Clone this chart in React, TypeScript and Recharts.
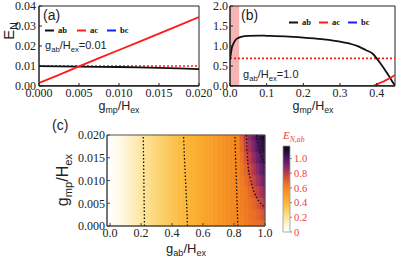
import React from 'react';
import { LineChart, ComposedChart, Line, XAxis, YAxis, ReferenceArea, ReferenceLine } from 'recharts';

// (a) g_ab/H_ex = 0.01
const gmpA = [0, 0.0025, 0.005, 0.0075, 0.01, 0.0125, 0.015, 0.0175, 0.02];
const abA = [0.0099, 0.0098, 0.0097, 0.0096, 0.0095, 0.0093, 0.0091, 0.0088, 0.0084];
const acA = [0.0015, 0.0056, 0.0098, 0.0139, 0.018, 0.0221, 0.0262, 0.0303, 0.0345];
const bcA = [0, 0, 0, 0, 0, 0, 0, 0, 0];
const refA = 0.01;
const xTicksA = [0, 0.005, 0.01, 0.015, 0.02];
const yTicksA = [0, 0.01, 0.02, 0.03, 0.04];

// (b) g_ab/H_ex = 1.0
const gmpB = [0, 0.005, 0.01, 0.015, 0.02, 0.03, 0.05, 0.08, 0.1, 0.15, 0.2, 0.25, 0.3, 0.33, 0.35, 0.37, 0.39, 0.4, 0.41, 0.42, 0.43, 0.44, 0.449];
const abB = [0.66, 0.95, 1.07, 1.15, 1.19, 1.23, 1.255, 1.26, 1.255, 1.24, 1.21, 1.17, 1.11, 1.05, 0.99, 0.9, 0.8, 0.69, 0.57, 0.44, 0.3, 0.15, 0.02];
const acB = [0, 0, 0, 0, 0, 0, 0, 0, 0, 0, 0, 0, 0, 0, 0, 0, 0, 0.04, 0.08, 0.12, 0.17, 0.22, 0.27];
const bcB = gmpB.map(() => 0);
const refB = 0.69;
const bandB = [0, 0.025];
const xTicksB = [0, 0.1, 0.2, 0.3, 0.4];
const yTicksB = [0, 0.5, 1.0, 1.5, 2.0];

// (c) E_N,ab map over g_ab (columns) and g_mp (rows)
const gabCols = [0, 0.025, 0.05, 0.075, 0.1, 0.125, 0.15, 0.175, 0.2, 0.225, 0.25, 0.275, 0.3, 0.325, 0.35, 0.375, 0.4, 0.425, 0.45, 0.475, 0.5, 0.525, 0.55, 0.575, 0.6, 0.625, 0.65, 0.675, 0.7, 0.725, 0.75, 0.775, 0.8, 0.825, 0.85, 0.875, 0.9, 0.925, 0.95, 0.975, 1.0];
const enBase = [0, 0.025, 0.049, 0.072, 0.095, 0.118, 0.14, 0.161, 0.182, 0.203, 0.223, 0.243, 0.262, 0.281, 0.3, 0.318, 0.336, 0.354, 0.372, 0.389, 0.405, 0.422, 0.438, 0.454, 0.47, 0.486, 0.501, 0.516, 0.531, 0.545, 0.56, 0.574, 0.588, 0.602, 0.615, 0.629, 0.642, 0.655, 0.668, 0.68, 0.693];
const gmpRows = [0, 0.0025, 0.005, 0.0075, 0.01, 0.0125, 0.015, 0.0175, 0.02];
const rightCols = [0.85, 0.875, 0.9, 0.925, 0.95, 0.975, 1.0];
const enRight = [
  [0.615, 0.616, 0.618, 0.622, 0.63, 0.64, 0.655, 0.675, 0.7],
  [0.629, 0.63, 0.633, 0.64, 0.66, 0.69, 0.73, 0.77, 0.8],
  [0.642, 0.645, 0.655, 0.675, 0.71, 0.75, 0.79, 0.83, 0.87],
  [0.655, 0.665, 0.685, 0.72, 0.77, 0.81, 0.86, 0.9, 0.94],
  [0.668, 0.685, 0.72, 0.78, 0.83, 0.88, 0.93, 0.98, 1.02],
  [0.68, 0.715, 0.77, 0.83, 0.89, 0.95, 1.0, 1.05, 1.09],
  [0.69, 0.745, 0.82, 0.88, 0.94, 1.0, 1.05, 1.1, 1.14],
];
const contour02 = [{ x: 0.222, y: 0 }, { x: 0.22, y: 0.005 }, { x: 0.218, y: 0.01 }, { x: 0.216, y: 0.015 }, { x: 0.214, y: 0.02 }];
const contour04 = [{ x: 0.5, y: 0 }, { x: 0.494, y: 0.005 }, { x: 0.487, y: 0.01 }, { x: 0.48, y: 0.015 }, { x: 0.474, y: 0.02 }];
const contour06 = [{ x: 0.825, y: 0 }, { x: 0.82, y: 0.005 }, { x: 0.815, y: 0.01 }, { x: 0.81, y: 0.015 }, { x: 0.806, y: 0.02 }];
const contour08 = [{ x: 0.88, y: 0.02 }, { x: 0.883, y: 0.017 }, { x: 0.89, y: 0.0135 }, { x: 0.905, y: 0.0105 }, { x: 0.93, y: 0.0075 }, { x: 0.96, y: 0.0055 }, { x: 1.0, y: 0.0042 }];
const contour10 = [{ x: 0.945, y: 0.02 }, { x: 0.96, y: 0.0175 }, { x: 0.98, y: 0.015 }, { x: 1.0, y: 0.0135 }];
const xTicksC = [0, 0.2, 0.4, 0.6, 0.8, 1.0];
const yTicksC = [0, 0.005, 0.01, 0.015, 0.02];
const cbarTicks = [0, 0.2, 0.4, 0.6, 0.8, 1.0];
const cbarMax = 1.17;

// reversed "sunset" style colour map
const cmapVals = [0, 0.1, 0.2, 0.3, 0.4, 0.5, 0.6, 0.7, 0.8, 0.9, 1.0, 1.17];
const cmapColors = ['#ffffff', '#fff4d4', '#fde39a', '#fccd62', '#fbb63a', '#f9a026', '#f4861e', '#e3602a', '#bc3a4a', '#7e266e', '#4a1762', '#0a0510'];

const hex = (c: string) => [1, 3, 5].map((i) => parseInt(c.slice(i, i + 2), 16));
function colorAt(v: number) {
  const t = Math.max(cmapVals[0], Math.min(cmapVals[cmapVals.length - 1], v));
  let i = 0;
  while (i < cmapVals.length - 2 && t > cmapVals[i + 1]) i++;
  const f = (t - cmapVals[i]) / (cmapVals[i + 1] - cmapVals[i]);
  const a = hex(cmapColors[i]);
  const b = hex(cmapColors[i + 1]);
  const rgb = a.map((x, k) => Math.round(x + (b[k] - x) * f));
  return `rgb(${rgb.join(',')})`;
}

const dataA = gmpA.map((x, i) => ({ x, ab: abA[i], ac: acA[i], bc: bcA[i] }));
const dataB = gmpB.map((x, i) => ({ x, ab: abB[i], ac: acB[i], bc: bcB[i] }));
const cbarData = cbarTicks.map((y) => ({ x: 0.5, y }));

const half = 0.0125;
const halfRow = 0.00125;
const cells: { x1: number; x2: number; y1: number; y2: number; v: number }[] = [];
gabCols.forEach((g, i) => {
  const x1 = i === 0 ? -0.02 : g - half;
  const x2 = Math.min(1.0, g + half);
  const j = rightCols.indexOf(g);
  if (j < 0) {
    cells.push({ x1, x2, y1: 0, y2: 0.02, v: enBase[i] });
  } else {
    gmpRows.forEach((r, k) => {
      cells.push({ x1, x2, y1: Math.max(0, r - halfRow), y2: Math.min(0.02, r + halfRow), v: enRight[j][k] });
    });
  }
});

const tickStyle = { fontFamily: '"Liberation Serif", "Times New Roman", serif', fontSize: 12, fill: '#222' };
const subStyle: React.CSSProperties = { fontSize: '0.7em', position: 'relative', top: '0.35em' };

const GH = ({ a, b }: { a: string; b: string }) => (
  <>g<span style={subStyle}>{a}</span>/H<span style={subStyle}>{b}</span></>
);

const Txt = ({ x, y, children, style }: { x: number; y: number; children: React.ReactNode; style?: React.CSSProperties }) => (
  <div style={{ position: 'absolute', left: x, top: y, whiteSpace: 'nowrap', lineHeight: 1, ...style }}>{children}</div>
);

const LegendItem = ({ x, y, color, label }: { x: number; y: number; color: string; label: string }) => (
  <div style={{ position: 'absolute', left: x, top: y, display: 'flex', alignItems: 'center', gap: 4, lineHeight: 1 }}>
    <svg width={9} height={3}><line x1={0} y1={1.5} x2={9} y2={1.5} stroke={color} strokeWidth={2} /></svg>
    <span style={{ fontFamily: '"Liberation Serif", serif', fontWeight: 700, fontSize: 8.5, color: '#111' }}>{label}</span>
  </div>
);

export default function App() {
  return (
    <div style={{ position: 'absolute', left: 0, top: 0, width: 399, height: 261, background: '#fff', fontFamily: '"Liberation Sans", Arial, sans-serif', color: '#222' }}>
      {/* (a) */}
      <div style={{ position: 'absolute', left: 0, top: 0 }}>
        <LineChart width={212} height={120} data={dataA} margin={{ top: 6, right: 13, bottom: 0, left: 0 }}>
          <XAxis type="number" dataKey="x" domain={[0, 0.02]} ticks={xTicksA} allowDataOverflow height={34}
            tickFormatter={(v: number) => v.toFixed(3)} tick={tickStyle} tickSize={-3} tickMargin={5} stroke="#222" interval={0} />
          <YAxis type="number" domain={[0, 0.04]} ticks={yTicksA} allowDataOverflow width={39}
            tickFormatter={(v: number) => v.toFixed(2)} tick={tickStyle} tickSize={-3} tickMargin={6} stroke="#222" interval={0} />
          <ReferenceArea x1={0} x2={0.02} y1={0} y2={0.04} fill="none" stroke="#222" strokeWidth={1} />
          <ReferenceLine y={refA} stroke="#ff1a1a" strokeWidth={1.6} strokeDasharray="2 2" />
          <Line dataKey="ab" stroke="#111" strokeWidth={1.8} dot={false} isAnimationActive={false} />
          <Line dataKey="ac" stroke="#ff1a1a" strokeWidth={1.8} dot={false} isAnimationActive={false} />
          <Line dataKey="bc" stroke="#1a1aff" strokeWidth={1.8} dot={false} isAnimationActive={false} />
        </LineChart>
      </div>

      {/* (b) */}
      <div style={{ position: 'absolute', left: 195, top: 0 }}>
        <LineChart width={204} height={120} data={dataB} margin={{ top: 6, right: 4, bottom: 0, left: 0 }}>
          <XAxis type="number" dataKey="x" domain={[0, 0.45]} ticks={xTicksB} allowDataOverflow height={34}
            tickFormatter={(v: number) => v.toFixed(1)} tick={tickStyle} tickSize={-3} tickMargin={5} stroke="#222" interval={0} />
          <YAxis type="number" domain={[0, 2]} ticks={yTicksB} allowDataOverflow width={35}
            tickFormatter={(v: number) => v.toFixed(1)} tick={tickStyle} tickSize={-3} tickMargin={5} stroke="#222" interval={0} />
          <ReferenceArea x1={bandB[0]} x2={bandB[1]} y1={0} y2={2} fill="#f4a3a3" fillOpacity={0.8} stroke="none" />
          <ReferenceArea x1={0} x2={0.45} y1={0} y2={2} fill="none" stroke="#222" strokeWidth={1} />
          <ReferenceLine y={refB} stroke="#ff1a1a" strokeWidth={1.6} strokeDasharray="2 2" />
          <Line type="monotone" dataKey="ab" stroke="#111" strokeWidth={1.8} dot={false} isAnimationActive={false} />
          <Line type="monotone" dataKey="ac" stroke="#ff1a1a" strokeWidth={1.8} dot={false} isAnimationActive={false} />
          <Line dataKey="bc" stroke="#1a1aff" strokeWidth={1.8} dot={false} isAnimationActive={false} />
        </LineChart>
      </div>

      {/* (c) */}
      <div style={{ position: 'absolute', left: 60, top: 125 }}>
        <ComposedChart width={218} height={136} margin={{ top: 10, right: 13, bottom: 0, left: 0 }}>
          <XAxis type="number" dataKey="x" domain={[-0.02, 1.0]} ticks={xTicksC} allowDataOverflow height={35}
            tickFormatter={(v: number) => v.toFixed(1)} tick={tickStyle} tickSize={-3} tickMargin={5} stroke="#444" interval={0} />
          <YAxis type="number" dataKey="y" domain={[0, 0.02]} ticks={yTicksC} allowDataOverflow width={47}
            tickFormatter={(v: number) => v.toFixed(3)} tick={tickStyle} tickSize={-3} tickMargin={5} stroke="#444" interval={0} />
          {cells.map((c, i) => (
            <ReferenceArea key={i} x1={c.x1} x2={c.x2} y1={c.y1} y2={c.y2} fill={colorAt(c.v)} stroke={colorAt(c.v)} strokeWidth={0.6} fillOpacity={1} />
          ))}
          <ReferenceArea x1={-0.02} x2={1.0} y1={0} y2={0.02} fill="none" stroke="#555" strokeWidth={1} />
          {[contour02, contour04, contour06, contour08, contour10].map((d, i) => (
            <Line key={i} data={d} dataKey="y" type="monotone" stroke="#111" strokeWidth={1.3} strokeDasharray="1.5 2" dot={false} isAnimationActive={false} />
          ))}
        </ComposedChart>
      </div>

      {/* colour bar */}
      <div style={{ position: 'absolute', left: 270, top: 135 }}>
        <ComposedChart width={50} height={102} data={cbarData} margin={{ top: 11, right: 0, bottom: 5, left: 13 }}>
          <defs>
            <linearGradient id="cbar" x1="0" y1="1" x2="0" y2="0">
              {cmapVals.map((v, i) => (
                <stop key={i} offset={v / cbarMax} stopColor={cmapColors[i]} />
              ))}
            </linearGradient>
          </defs>
          <XAxis type="number" dataKey="x" domain={[0, 1]} height={0} tick={false} axisLine={false} tickLine={false} />
          <YAxis type="number" dataKey="y" orientation="right" domain={[0, cbarMax]} ticks={cbarTicks} allowDataOverflow width={30}
            tickFormatter={(v: number) => (v === 0 ? '0' : v.toFixed(1))}
            tick={{ ...tickStyle, fontSize: 10.5, fill: '#f03c3c' }} tickSize={2} tickMargin={2} stroke="#888" axisLine={false} interval={0} />
          <ReferenceArea x1={0} x2={1} y1={0} y2={cbarMax} fill="url(#cbar)" fillOpacity={1} stroke="#999" strokeWidth={0.8} ifOverflow="visible" />
        </ComposedChart>
      </div>

      {/* texts */}
      <Txt x={43} y={8} style={{ fontSize: 14 }}>(a)</Txt>
      <Txt x={241} y={8} style={{ fontSize: 14 }}>(b)</Txt>
      <Txt x={52} y={118} style={{ fontSize: 14 }}>(c)</Txt>
      <Txt x={45} y={40} style={{ fontSize: 11 }}><GH a="ab" b="ex" />=0.01</Txt>
      <Txt x={243} y={69} style={{ fontSize: 11 }}><GH a="ab" b="ex" />=1.0</Txt>
      <Txt x={119} y={100} style={{ fontSize: 12.5, transform: 'translateX(-50%)' }}><GH a="mp" b="ex" /></Txt>
      <Txt x={313} y={100} style={{ fontSize: 12.5, transform: 'translateX(-50%)' }}><GH a="mp" b="ex" /></Txt>
      <Txt x={186} y={242} style={{ fontSize: 13, transform: 'translateX(-50%)' }}><GH a="ab" b="ex" /></Txt>
      <Txt x={63} y={180} style={{ fontSize: 16, transform: 'translate(-50%, -50%) rotate(-90deg)' }}><GH a="mp" b="ex" /></Txt>
      <Txt x={8} y={31} style={{ fontSize: 15, transform: 'translate(-50%, -50%) rotate(-90deg)' }}>E<span style={subStyle}>N</span></Txt>
      <Txt x={283} y={130} style={{ fontSize: 11, fontFamily: '"Liberation Serif", serif', fontStyle: 'italic', color: '#f03c3c' }}>E<span style={subStyle}>N,ab</span></Txt>

      {/* legends */}
      <LegendItem x={45} y={26} color="#111" label="ab" />
      <LegendItem x={77} y={26} color="#ff1a1a" label="ac" />
      <LegendItem x={107} y={26} color="#1a1aff" label="bc" />
      <LegendItem x={289} y={18} color="#111" label="ab" />
      <LegendItem x={319} y={18} color="#ff1a1a" label="ac" />
      <LegendItem x={348} y={18} color="#1a1aff" label="bc" />
    </div>
  );
}
